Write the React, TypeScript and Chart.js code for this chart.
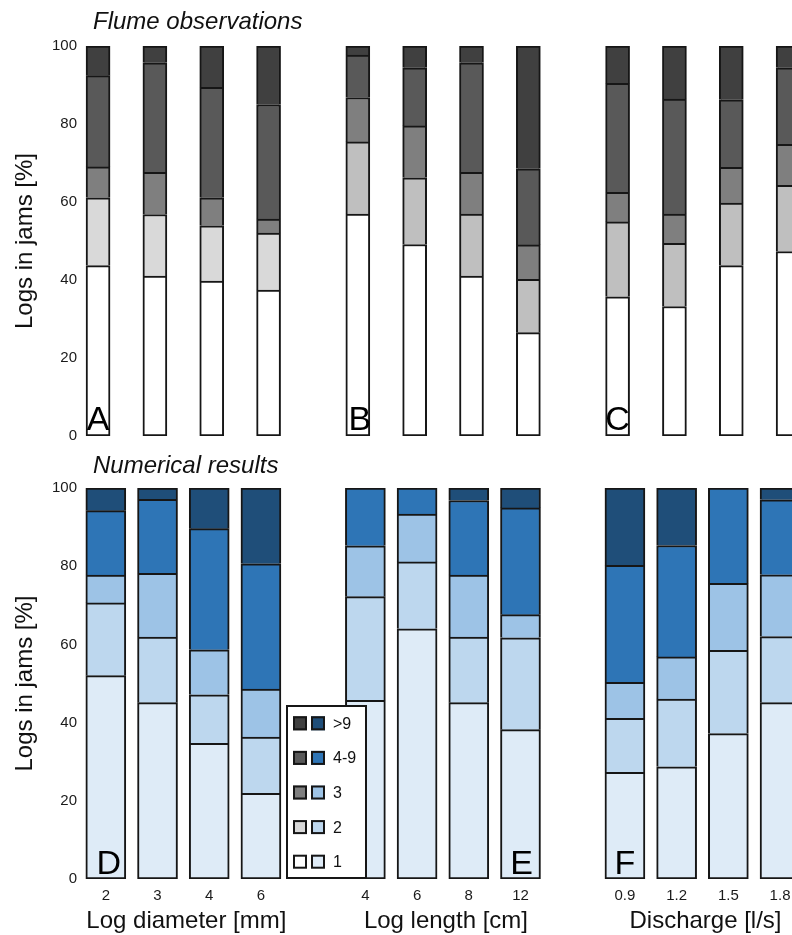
import React, { useEffect, useRef } from 'react';
import { Chart, registerables } from 'chart.js';

Chart.register(...registerables);

// ---- categories / labels ----
const segmentLabels = ['1', '2', '3', '4-9', '>9'];
const flumeLetters = ['A', 'B', 'C'];
const numericalLetters = ['D', 'E', 'F'];
const diameterTicks = ['2', '3', '4', '6'];
const lengthTicks = ['4', '6', '8', '12'];
const dischargeTicks = ['0.9', '1.2', '1.5', '1.8'];
const groupTitles = ['Log diameter [mm]', 'Log length [cm]', 'Discharge [l/s]'];
const flumeTitle = 'Flume observations';
const numericalTitle = 'Numerical results';
const yTitle = 'Logs in jams [%]';

// ---- Flume observations (A1..A4, B1..B4, C1..C4), percent of logs ----
const flume1 = [43.7, 41.0, 39.7, 37.4, 56.9, 49.1, 41.0, 26.5, 35.7, 33.2, 43.7, 47.3];
const flume2 = [17.4, 15.8, 14.2, 14.6, 18.5, 17.1, 15.9, 13.7, 19.2, 16.2, 16.0, 17.0];
const flume3 = [7.9, 10.8, 7.2, 3.6, 11.4, 13.3, 10.7, 8.8, 7.6, 7.5, 9.2, 10.5];
const flume4to9 = [23.4, 28.1, 28.3, 29.4, 10.9, 14.9, 28.1, 19.5, 27.9, 29.5, 17.3, 19.6];
const flumeOver9 = [7.6, 4.3, 10.6, 15.0, 2.3, 5.6, 4.3, 31.5, 9.6, 13.6, 13.8, 5.6];

// ---- Numerical results (D1..D4, E1..E4, F1..F4) ----
const num1 = [52.0, 45.1, 34.7, 21.9, 45.7, 64.0, 45.1, 38.2, 27.3, 28.7, 37.2, 45.1];
const num2 = [18.6, 16.8, 12.4, 14.4, 26.5, 17.1, 16.8, 23.5, 13.8, 17.3, 21.3, 16.9];
const num3 = [7.1, 16.3, 11.5, 12.3, 13.0, 12.2, 15.8, 5.9, 9.2, 10.8, 17.1, 15.8];
const num4to9 = [16.5, 18.9, 31.0, 32.0, 14.8, 6.7, 19.1, 27.3, 29.9, 28.5, 24.4, 19.2];
const numOver9 = [5.8, 2.9, 10.4, 19.4, 0, 0, 3.2, 5.1, 19.8, 14.7, 0, 3.0];

// ---- colours ----
const grayColors = ['#ffffff', '#bfbfbf', '#7f7f7f', '#595959', '#404040'];
const grayColorsA = ['#ffffff', '#d9d9d9', '#7f7f7f', '#595959', '#404040'];
const blueColors = ['#deebf7', '#bdd7ee', '#9dc3e6', '#2e75b6', '#1f4e79'];
const edgeColor = '#161616';
const textColor = '#111111';
const FONT = "'Liberation Sans', Arial, Helvetica, sans-serif";

const barsPerGroup = 4;
const groupCount = 3;

function barPositions(stride: number): number[] {
  const out: number[] = [];
  for (let g = 0; g < groupCount; g++) {
    for (let i = 0; i < barsPerGroup; i++) out.push(g * stride + i);
  }
  return out;
}

function buildDatasets(
  series: number[][],
  positions: number[],
  colorFor: (s: number, k: number) => string,
  thickness: number
) {
  return series.map((vals, s) => ({
    label: segmentLabels[s],
    data: vals.map((v, k) => ({ x: positions[k], y: v })),
    backgroundColor: vals.map((_, k) => colorFor(s, k)),
    borderColor: edgeColor,
    borderWidth: s === 0 ? { top: 2, left: 2, right: 2, bottom: 2 } : { top: 2, left: 2, right: 2, bottom: 0 },
    borderSkipped: false as const,
    barThickness: thickness,
    stack: 'all',
  }));
}

type PanelOpts = {
  title: string;
  titleX: number;
  titleY: number;
  letters: string[];
  letterBar: number[];
  letterDx: number[];
  letterLift: number;
  groupTitles?: string[];
  groupTitleY?: number;
  legend?: boolean;
};

function panelPlugin(o: PanelOpts) {
  return {
    id: 'panelText',
    afterDatasetsDraw(chart: any) {
      const ctx = chart.ctx;
      const meta = chart.getDatasetMeta(0);
      const area = chart.chartArea;
      ctx.save();
      ctx.fillStyle = '#000';
      ctx.font = `34px ${FONT}`;
      ctx.textAlign = 'center';
      ctx.textBaseline = 'alphabetic';
      o.letters.forEach((letter, g) => {
        const bar = meta.data[g * barsPerGroup + o.letterBar[g]];
        ctx.fillText(letter, bar.x + o.letterDx[g], area.bottom - o.letterLift);
      });
      ctx.restore();
    },
    afterDraw(chart: any) {
      const ctx = chart.ctx;
      const meta = chart.getDatasetMeta(0);
      const area = chart.chartArea;
      ctx.save();
      ctx.fillStyle = textColor;
      ctx.font = `italic 24px ${FONT}`;
      ctx.textAlign = 'left';
      ctx.textBaseline = 'alphabetic';
      ctx.fillText(o.title, o.titleX, o.titleY);

      if (o.groupTitles) {
        ctx.font = `24px ${FONT}`;
        ctx.textAlign = 'center';
        o.groupTitles.forEach((t, g) => {
          const a = meta.data[g * barsPerGroup].x;
          const b = meta.data[g * barsPerGroup + barsPerGroup - 1].x;
          ctx.fillText(t, (a + b) / 2 + 3, o.groupTitleY as number);
        });
      }

      if (o.legend) {
        const left = area.left + 205;
        const w = 81;
        const h = 174;
        const top = area.bottom - h;
        ctx.fillStyle = '#ffffff';
        ctx.fillRect(left, top, w, h);
        ctx.strokeStyle = edgeColor;
        ctx.lineWidth = 2;
        ctx.strokeRect(left + 1, top + 1, w - 2, h - 2);
        ctx.font = `16px ${FONT}`;
        ctx.textAlign = 'left';
        ctx.textBaseline = 'middle';
        const n = segmentLabels.length;
        for (let r = 0; r < n; r++) {
          const s = n - 1 - r;
          const cy = top + 18.3 + r * 34.6;
          const sq = 14;
          [grayColorsA[s], blueColors[s]].forEach((c, j) => {
            const x0 = left + 7 + j * 18;
            ctx.fillStyle = c;
            ctx.fillRect(x0, cy - sq / 2, sq, sq);
            ctx.strokeStyle = edgeColor;
            ctx.lineWidth = 2;
            ctx.strokeRect(x0 + 1, cy - sq / 2 + 1, sq - 2, sq - 2);
          });
          ctx.fillStyle = textColor;
          ctx.fillText(segmentLabels[s], left + 47, cy + 1);
        }
      }
      ctx.restore();
    },
  };
}

function yAxis() {
  return {
    stacked: true,
    min: 0,
    max: 100,
    ticks: { stepSize: 20, color: '#1a1a1a', font: { size: 15, family: FONT }, padding: 4 },
    grid: { display: false, drawTicks: false },
    border: { display: false },
    title: {
      display: true,
      text: yTitle,
      color: textColor,
      font: { size: 24, family: FONT },
      padding: { top: 11, bottom: 0 },
    },
    afterFit: (scale: any) => {
      scale.width = 81;
    },
  };
}

export default function App() {
  const topRef = useRef<HTMLCanvasElement>(null);
  const bottomRef = useRef<HTMLCanvasElement>(null);

  useEffect(() => {
    Chart.defaults.font.family = FONT;
    const topPos = barPositions(4.57);
    const bottomPos = barPositions(5.02);
    const bottomTickLabels = [...diameterTicks, ...lengthTicks, ...dischargeTicks];

    const top = new Chart(topRef.current as HTMLCanvasElement, {
      type: 'bar',
      data: {
        datasets: buildDatasets(
          [flume1, flume2, flume3, flume4to9, flumeOver9],
          topPos,
          (s, k) => (k < barsPerGroup ? grayColorsA[s] : grayColors[s]),
          24
        ) as any,
      },
      options: {
        animation: false,
        responsive: false,
        layout: { padding: { top: 46, bottom: 14, left: 0, right: 0 } },
        plugins: { legend: { display: false }, tooltip: { enabled: false } },
        scales: {
          x: { type: 'linear', offset: false, stacked: true, min: -0.3, max: 13, display: false },
          y: yAxis() as any,
        },
      },
      plugins: [
        panelPlugin({
          title: flumeTitle,
          titleX: 93,
          titleY: 29,
          letters: flumeLetters,
          letterBar: [0, 0, 0],
          letterDx: [0, 2, 0],
          letterLift: 6,
        }),
      ],
    });

    const bottom = new Chart(bottomRef.current as HTMLCanvasElement, {
      type: 'bar',
      data: {
        datasets: buildDatasets(
          [num1, num2, num3, num4to9, numOver9],
          bottomPos,
          (s) => blueColors[s],
          40
        ) as any,
      },
      options: {
        animation: false,
        responsive: false,
        layout: { padding: { top: 38, bottom: 0, left: 0, right: 0 } },
        plugins: { legend: { display: false }, tooltip: { enabled: false } },
        scales: {
          x: {
            type: 'linear',
            offset: false,
            stacked: true,
            min: -0.48,
            max: 13.6,
            grid: { display: false, drawTicks: false, offset: false },
            border: { display: false },
            ticks: {
              autoSkip: false,
              maxRotation: 0,
              minRotation: 0,
              padding: 8,
              color: '#1a1a1a',
              font: { size: 15, family: FONT },
              callback: (_v: any, idx: number) => bottomTickLabels[idx],
            },
            afterBuildTicks: (scale: any) => {
              scale.ticks = bottomPos.map((value) => ({ value }));
            },
            afterFit: (scale: any) => {
              scale.height = 56;
            },
          } as any,
          y: yAxis() as any,
        },
      },
      plugins: [
        panelPlugin({
          title: numericalTitle,
          titleX: 93,
          titleY: 23,
          letters: numericalLetters,
          letterBar: [0, 3, 0],
          letterDx: [3, 1, 0],
          letterLift: 5,
          groupTitles,
          groupTitleY: 478,
          legend: true,
        }),
      ],
    });

    return () => {
      top.destroy();
      bottom.destroy();
    };
  }, []);

  return (
    <div
      style={{
        position: 'fixed',
        left: 0,
        top: 0,
        width: 792,
        height: 935,
        overflow: 'hidden',
        background: '#ffffff',
      }}
    >
      <canvas
        ref={topRef}
        width={837}
        height={450}
        style={{ position: 'absolute', left: 0, top: 0, width: 837, height: 450 }}
      />
      <canvas
        ref={bottomRef}
        width={809}
        height={485}
        style={{ position: 'absolute', left: 0, top: 450, width: 809, height: 485 }}
      />
    </div>
  );
}
